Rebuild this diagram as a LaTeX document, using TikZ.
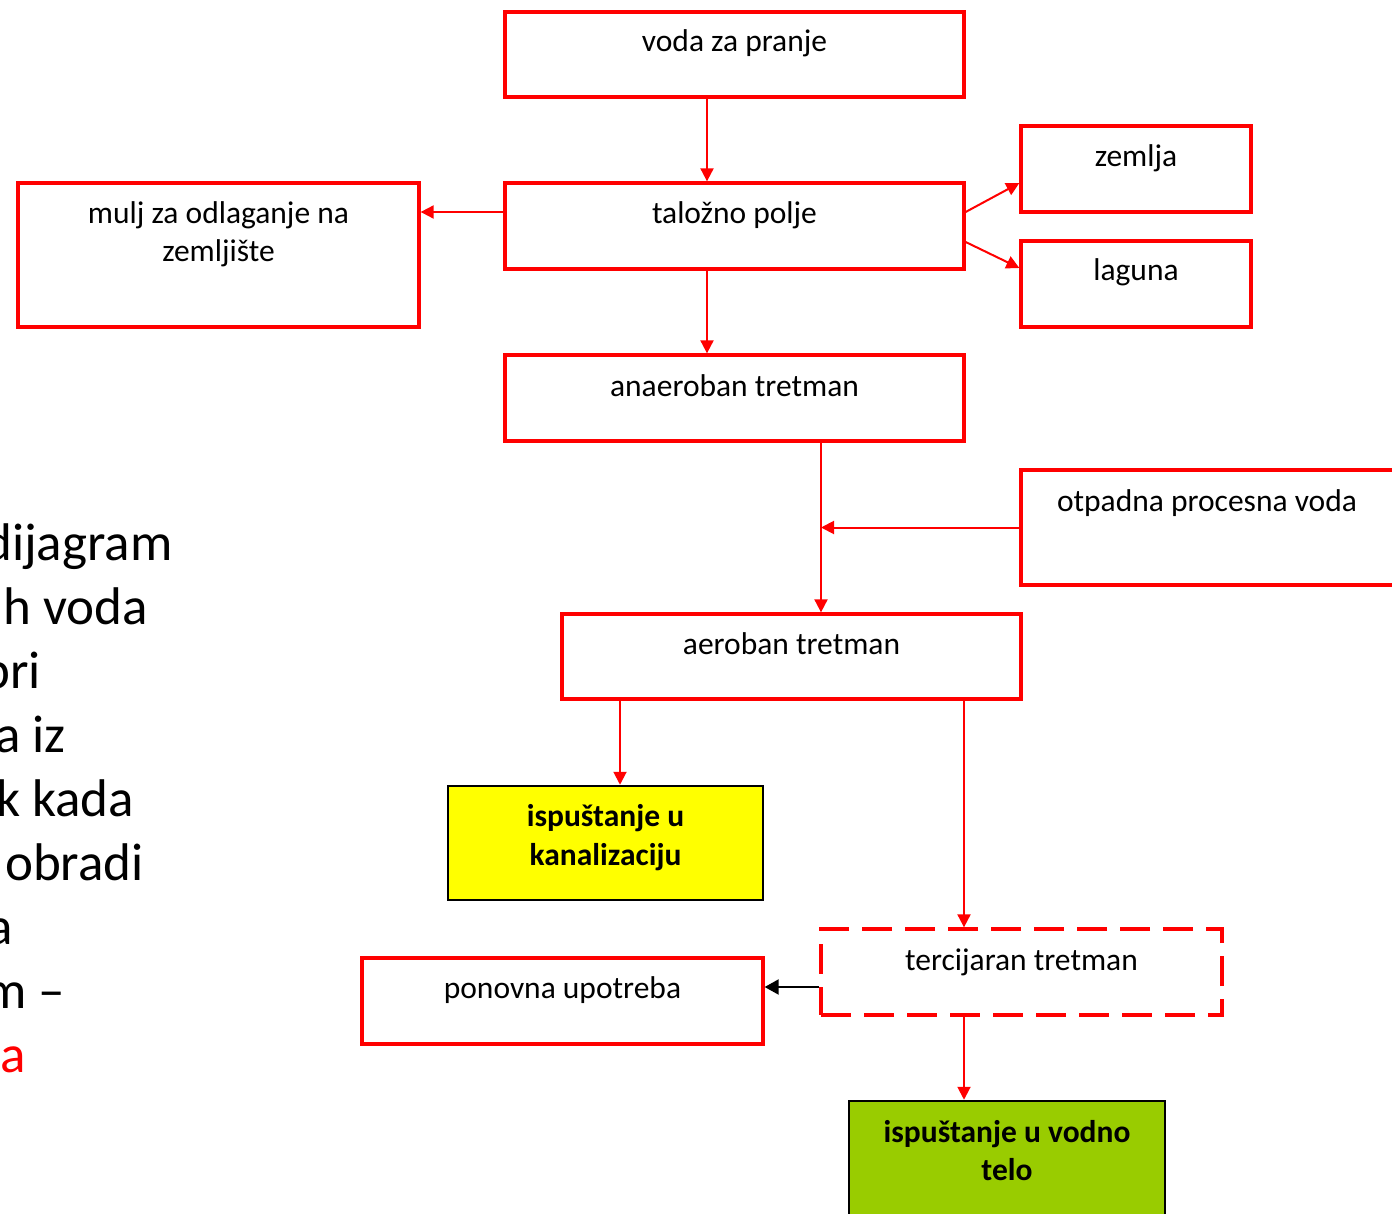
\documentclass[tikz,border=0pt]{standalone}
\usepackage{fontspec}
\setmainfont{Carlito}
\usetikzlibrary{arrows.meta,calc}
\definecolor{pptred}{RGB}{255,0,0}
\definecolor{pptyellow}{RGB}{255,255,0}
\definecolor{pptgreen}{RGB}{153,204,0}
\begin{document}
\begin{tikzpicture}[x=1pt,y=-1pt,
  box/.style={draw=pptred,line width=3.3pt,rectangle,inner sep=0pt,fill=white},
  dbox/.style={box,dash pattern=on 30pt off 13pt},
  kbox/.style={draw=black,line width=2.5pt,rectangle,inner sep=0pt},
  lbl/.style={anchor=base,inner sep=0pt,font=\fontsize{31.5}{38}\selectfont},
  blbl/.style={lbl,font=\fontsize{31.5}{38}\selectfont\bfseries},
  big/.style={anchor=base west,inner sep=0pt,font=\fontsize{53}{64}\selectfont},
  arr/.style={draw=pptred,line width=2pt,-{Triangle[length=13pt,width=13pt]}},
  arrk/.style={draw=black,line width=2pt,-{Triangle[length=14pt,width=15pt]}}]
\useasboundingbox (0,0) rectangle (1392,1214);
\fill[white] (0,0) rectangle (1392,1214);

% left text (cut off at the page edge)
\node[big] (l1) at (-16,560) {dijagram};
\node[big] (l2) at (3,624) {h voda};
\node[big] (l3) at (-18,688) {pri};
\node[big] (l4) at (-5,752) {a iz};
\node[big] (l5) at (-4,816) {k kada};
\node[big] (l6) at (5,880) {obradi};
\node[big] (l7) at (-13,944) {a};
\node[big] (l8) at (-16,1008) {m –};
\node[big,text=pptred] (l9) at (0,1072) {a};

% boxes
\node[box,minimum width=459pt,minimum height=85pt] (voda) at (734.5,54.5) {};
\node[box,minimum width=459pt,minimum height=86pt] (tal) at (734.5,226) {};
\node[box,minimum width=401pt,minimum height=144pt] (mulj) at (218.5,255) {};
\node[box,minimum width=230pt,minimum height=86pt] (zem) at (1136,169) {};
\node[box,minimum width=230pt,minimum height=86pt] (lag) at (1136,284) {};
\node[box,minimum width=459pt,minimum height=86pt] (anaer) at (734.5,398) {};
\node[box,minimum width=376pt,minimum height=115pt] (otp) at (1209,527.5) {};
\node[box,minimum width=459pt,minimum height=85pt] (aer) at (791.5,656.5) {};
\node[kbox,fill=pptyellow,minimum width=315pt,minimum height=114pt] (kan) at (605.5,843) {};
\node[dbox,minimum width=401pt,minimum height=86pt] (terc) at (1021.5,972) {};
\node[box,minimum width=401pt,minimum height=86pt] (pon) at (562.5,1001) {};
\node[kbox,fill=pptgreen,minimum width=316pt,minimum height=124pt] (vod) at (1007,1163) {};

% texts
\node[lbl] (tvoda) at (734.5,52) {voda za pranje};
\node[lbl] (ttal) at (734.5,224) {taložno polje};
\node[lbl] (tmulj1) at (218.5,224) {mulj za odlaganje na};
\node[lbl] (tmulj2) at (218.5,262) {zemljište};
\node[lbl] (tzem) at (1136,167) {zemlja};
\node[lbl] (tlag) at (1136,281) {laguna};
\node[lbl] (tanaer) at (734.5,396) {anaeroban tretman};
\node[lbl] (totp) at (1207,511) {otpadna procesna voda};
\node[lbl] (taer) at (791.5,654) {aeroban tretman};
\node[blbl] (tkan1) at (605.5,826) {ispuštanje u};
\node[blbl] (tkan2) at (605.5,865) {kanalizaciju};
\node[lbl] (tterc) at (1021.5,970) {tercijaran tretman};
\node[lbl] (tpon) at (562.5,998) {ponovna upotreba};
\node[blbl] (tvod1) at (1007,1142) {ispuštanje u vodno};
\node[blbl] (tvod2) at (1007,1180) {telo};

% connectors
\draw[arr] ([xshift=-27.5pt]voda.south) coordinate (a1) -- (a1 |- tal.north);
\draw[arr] ([yshift=14pt]tal.west) coordinate (a2) -- (a2 -| mulj.east);
\draw[arr] ([yshift=14pt]tal.east) -- ([yshift=-14pt]zem.west);
\draw[arr] ([yshift=-16pt]tal.east) -- ([yshift=16pt]lag.west);
\draw[arr] ([xshift=-27.5pt]tal.south) coordinate (a3) -- (a3 |- anaer.north);
\draw[arr] ([xshift=86.5pt]anaer.south) coordinate (p) -- (p |- aer.north);
\draw[arr] (otp.west) -- (otp.west -| p);
\draw[arr] ([xshift=-171.5pt]aer.south) coordinate (q1) -- (q1 |- kan.north);
\draw[arr] ([xshift=172.5pt]aer.south) coordinate (q2) -- (q2 |- terc.north);
\draw[arrk] ([yshift=-15pt]terc.west) coordinate (r) -- (r -| pon.east);
\draw[arr] ([xshift=-57.5pt]terc.south) coordinate (s) -- (s |- vod.north);
\end{tikzpicture}
\end{document}
